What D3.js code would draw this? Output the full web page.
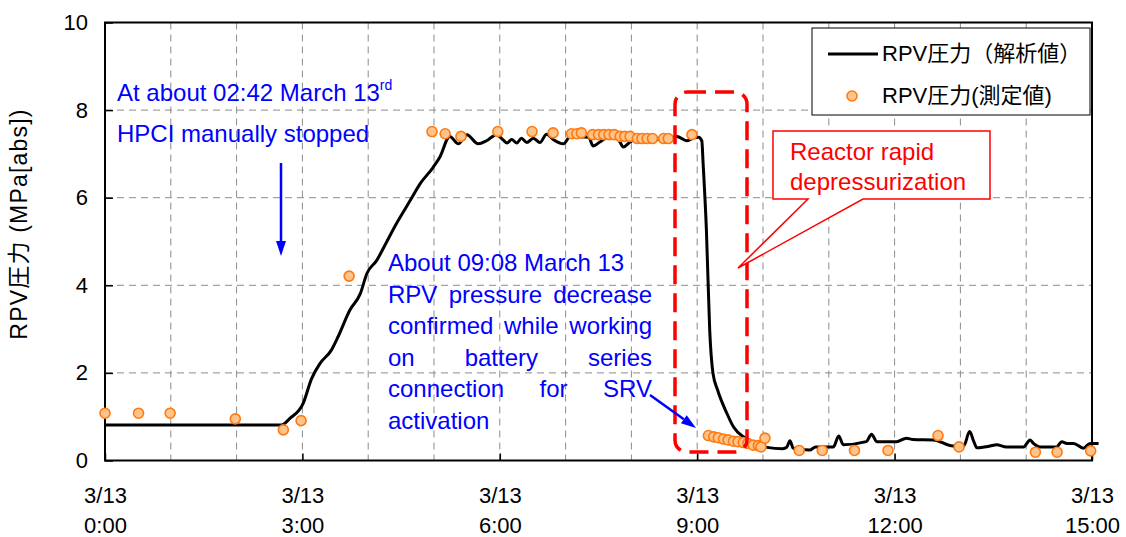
<!DOCTYPE html>
<html>
<head>
<meta charset="utf-8">
<script src="https://cdn.jsdelivr.net/npm/d3@7"></script>
<style>
  body { margin: 0; background: #fff; }
  svg { display: block; font-family: "Liberation Sans", Arial, "Noto Sans CJK JP", sans-serif; }
</style>
</head>
<body>
<svg id="chart" width="1126" height="537"></svg>
<script>
// Analysed RPV pressure (hours after 3/13 0:00, MPa[abs])
const simTime = [0, 2.68, 2.81, 3.01, 3.14, 3.27, 3.44, 3.54, 3.72, 3.88, 3.98, 4.13, 4.28, 4.43, 4.64, 4.79, 4.99, 5.09,
  5.24, 5.37, 5.50, 5.67, 5.80, 5.95, 6.05, 6.11, 6.18, 6.26, 6.33, 6.41, 6.51, 6.61, 6.71, 6.81, 6.97, 7.07, 7.35, 7.42,
  7.52, 7.62, 7.78, 7.88, 7.98, 8.13, 8.33, 8.54, 8.69, 8.84, 8.94, 9.02, 9.07,
  9.09, 9.14, 9.19, 9.24, 9.31, 9.45, 9.55, 9.73, 9.85, 10.06, 10.30, 10.36, 10.41, 10.46, 10.71, 10.80, 11.07, 11.15, 11.22,
  11.57, 11.65, 11.73, 12.03, 12.18, 12.28, 12.59, 12.89, 13.05, 13.14, 13.20, 13.25, 13.45, 13.55, 13.70, 13.96, 14.06,
  14.11, 14.21, 14.46, 14.54, 14.62, 14.72, 14.87, 14.97, 15.10];
const simPressure = [0.81, 0.81, 0.96, 1.30, 1.87, 2.22, 2.52, 2.82, 3.43, 3.81, 4.27, 4.57, 4.99, 5.41, 5.94, 6.32, 6.70, 6.93,
  7.40, 7.23, 7.44, 7.23, 7.30, 7.44, 7.32, 7.25, 7.33, 7.25, 7.36, 7.26, 7.36, 7.26, 7.45, 7.33, 7.23, 7.40, 7.38, 7.18,
  7.27, 7.36, 7.36, 7.16, 7.27, 7.38, 7.33, 7.33, 7.40, 7.30, 7.36, 7.38, 7.30,
  6.78, 5.26, 2.98, 1.99, 1.61, 1.08, 0.77, 0.51, 0.39, 0.30, 0.27, 0.30, 0.45, 0.28, 0.24, 0.31, 0.31, 0.56, 0.36,
  0.43, 0.60, 0.43, 0.43, 0.51, 0.48, 0.47, 0.33, 0.33, 0.66, 0.45, 0.29, 0.33, 0.36, 0.31, 0.31, 0.47,
  0.39, 0.31, 0.31, 0.43, 0.39, 0.39, 0.28, 0.39, 0.39];

// Measured RPV pressure
const measTime = [0, 0.51, 0.99, 1.98, 2.71, 2.98, 3.71, 4.97, 5.17, 5.41, 5.97, 6.49, 6.81, 7.09, 7.17, 7.24,
  7.41, 7.50, 7.58, 7.66, 7.74, 7.83, 7.90, 7.98, 8.09, 8.16, 8.24, 8.32, 8.49, 8.56, 8.92,
  9.17, 9.25, 9.32, 9.40, 9.47, 9.55, 9.62, 9.70, 9.77, 9.85, 9.93, 9.97, 10.03,
  10.55, 10.90, 11.39, 11.90, 12.66, 12.98, 14.14, 14.47, 14.98];
const measPressure = [1.08, 1.08, 1.08, 0.95, 0.70, 0.91, 4.21, 7.51, 7.46, 7.40, 7.51, 7.51, 7.48, 7.46, 7.46, 7.48,
  7.44, 7.44, 7.44, 7.44, 7.44, 7.40, 7.40, 7.40, 7.35, 7.35, 7.35, 7.35, 7.35, 7.35, 7.44,
  0.57, 0.54, 0.52, 0.49, 0.47, 0.44, 0.43, 0.41, 0.39, 0.35, 0.34, 0.31, 0.51,
  0.23, 0.23, 0.23, 0.23, 0.57, 0.31, 0.19, 0.19, 0.22];

const yTicks = [0, 2, 4, 6, 8, 10];
const xTickHours = [0, 3, 6, 9, 12, 15];
const xTickDate = ["3/13", "3/13", "3/13", "3/13", "3/13", "3/13"];
const xTickClock = ["0:00", "3:00", "6:00", "9:00", "12:00", "15:00"];
const legendLabels = ["RPV圧力（解析値）", "RPV圧力(測定値)"];
const yTitle = "RPV圧力 (MPa[abs])";

const svg = d3.select("#chart");
const pLeft = 105, pRight = 1092, pTop = 22.5, pBottom = 460.5;
const x = d3.scaleLinear().domain([0, 15]).range([pLeft, pRight]);
const y = d3.scaleLinear().domain([0, 10]).range([pBottom, pTop]);

// grid
const grid = svg.append("g").attr("stroke", "#8c8c8c").attr("stroke-width", 1).attr("stroke-dasharray", "7,5");
grid.selectAll("line.h").data(d3.range(2, 10, 2)).join("line").attr("class", "h")
  .attr("x1", pLeft).attr("x2", pRight).attr("y1", d => y(d)).attr("y2", d => y(d));
grid.selectAll("line.v").data(d3.range(1, 15)).join("line").attr("class", "v")
  .attr("y1", pTop).attr("y2", pBottom).attr("x1", d => x(d)).attr("x2", d => x(d));

// axes with inward ticks
const yAxis = svg.append("g").attr("transform", `translate(${pLeft},0)`)
  .call(d3.axisLeft(y).tickValues(yTicks).tickSize(-8).tickPadding(17).tickFormat(d3.format("d")));
yAxis.select(".domain").remove();
yAxis.selectAll("line").attr("stroke", "#000").attr("stroke-width", 1.5);
yAxis.selectAll("text").attr("font-size", 22).attr("fill", "#000");
yAxis.attr("font-family", null);

const xAxis = svg.append("g").attr("transform", `translate(0,${pBottom})`)
  .call(d3.axisBottom(x).tickValues(xTickHours).tickSize(-7).tickFormat(""));
xAxis.select(".domain").remove();
xAxis.attr("font-family", null);
xAxis.selectAll("line").attr("stroke", "#000").attr("stroke-width", 1.5);
xAxis.selectAll(".tick").each(function (d, i) {
  const t = d3.select(this).append("text").attr("fill", "#000").attr("font-size", 22).attr("text-anchor", "middle");
  t.append("tspan").attr("x", 0).attr("y", 42).text(xTickDate[i]);
  t.append("tspan").attr("x", 0).attr("y", 72).text(xTickClock[i]);
});

// frame
svg.append("rect").attr("x", pLeft).attr("y", pTop).attr("width", pRight - pLeft).attr("height", pBottom - pTop)
  .attr("fill", "none").attr("stroke", "#000").attr("stroke-width", 2);

// y title
svg.append("text").attr("transform", "translate(27,224) rotate(-90)")
  .attr("text-anchor", "middle").attr("font-size", 23).attr("letter-spacing", 1.2)
  .attr("fill", "#000").text(yTitle);

// analysed line
const simData = simTime.map((t, i) => [t, simPressure[i]]);
svg.append("path").datum(simData)
  .attr("fill", "none").attr("stroke", "#000").attr("stroke-width", 3).attr("stroke-linejoin", "round")
  .attr("d", d3.line().x(d => x(d[0])).y(d => y(d[1])).curve(d3.curveMonotoneX));

// measured points
const measData = measTime.map((t, i) => [t, measPressure[i]]);
svg.append("g").selectAll("circle").data(measData).join("circle")
  .attr("cx", d => x(d[0])).attr("cy", d => y(d[1])).attr("r", 5)
  .attr("fill", "#ffc48c").attr("stroke", "#ff7a10").attr("stroke-width", 1.6);

// red dashed highlight box around depressurization
svg.append("rect").attr("x", 675).attr("y", 92).attr("width", 72).attr("height", 360).attr("rx", 12)
  .attr("fill", "none").attr("stroke", "#ff0000").attr("stroke-width", 3.5).attr("stroke-dasharray", "19,9");

// callout
svg.append("path")
  .attr("d", "M773,131 L990,131 L990,199 L863,199 L738,268 L808,199 L773,199 Z")
  .attr("fill", "#fff").attr("stroke", "#ff0000").attr("stroke-width", 1.5);
const callout = svg.append("text").attr("fill", "#ff0000").attr("font-size", 24);
callout.append("tspan").attr("x", 790).attr("y", 160).text("Reactor rapid");
callout.append("tspan").attr("x", 790).attr("y", 190).text("depressurization");

// HPCI annotation
const blue = "#0000ff";
const a1 = svg.append("text").attr("fill", blue).attr("font-size", 24).attr("x", 117).attr("y", 101);
a1.text("At about 02:42 March 13");
a1.append("tspan").attr("font-size", 14).attr("dy", -11).text("rd");
svg.append("text").attr("fill", blue).attr("font-size", 24).attr("x", 117).attr("y", 142).text("HPCI manually stopped");

function arrow(x1, y1, x2, y2) {
  const ang = Math.atan2(y2 - y1, x2 - x1), len = 15, half = 5;
  const bx = x2 - len * Math.cos(ang), by = y2 - len * Math.sin(ang);
  svg.append("line").attr("x1", x1).attr("y1", y1).attr("x2", bx).attr("y2", by)
    .attr("stroke", blue).attr("stroke-width", 2.5);
  const px = -Math.sin(ang) * half, py = Math.cos(ang) * half;
  svg.append("path").attr("fill", blue)
    .attr("d", `M${x2},${y2} L${bx + px},${by + py} L${bx - px},${by - py} Z`);
}
arrow(281, 163, 281, 256);

// 09:08 annotation, justified block
const blockLeft = 388, blockRight = 652, lh = 31.5, base0 = 271;
const blockLines = [
  { words: ["About 09:08 March 13"], justify: false },
  { words: ["RPV", "pressure", "decrease"], justify: true },
  { words: ["confirmed", "while", "working"], justify: true },
  { words: ["on", "battery", "series"], justify: true },
  { words: ["connection", "for", "SRV"], justify: true },
  { words: ["activation"], justify: false }
];
blockLines.forEach((ln, i) => {
  const yy = base0 + i * lh;
  const texts = ln.words.map(w => svg.append("text").attr("fill", blue).attr("font-size", 24).attr("y", yy).text(w));
  if (!ln.justify) { texts.forEach(t => t.attr("x", blockLeft)); return; }
  const widths = texts.map(t => t.node().getComputedTextLength());
  const gap = (blockRight - blockLeft - d3.sum(widths)) / (texts.length - 1);
  let cx = blockLeft;
  texts.forEach((t, k) => { t.attr("x", cx); cx += widths[k] + gap; });
});
arrow(650, 395, 696, 428);

// legend
const lg = svg.append("g");
lg.append("rect").attr("x", 812).attr("y", 28).attr("width", 278).attr("height", 87)
  .attr("fill", "#fff").attr("stroke", "#000").attr("stroke-width", 1);
lg.append("line").attr("x1", 828).attr("x2", 878).attr("y1", 54).attr("y2", 54)
  .attr("stroke", "#000").attr("stroke-width", 3);
lg.append("text").attr("x", 882).attr("y", 61).attr("font-size", 22).attr("fill", "#000").text(legendLabels[0]);
lg.append("circle").attr("cx", 852).attr("cy", 96).attr("r", 5)
  .attr("fill", "#ffc48c").attr("stroke", "#ff7a10").attr("stroke-width", 1.6);
lg.append("text").attr("x", 882).attr("y", 103).attr("font-size", 22).attr("fill", "#000").text(legendLabels[1]);
</script>
</body>
</html>
